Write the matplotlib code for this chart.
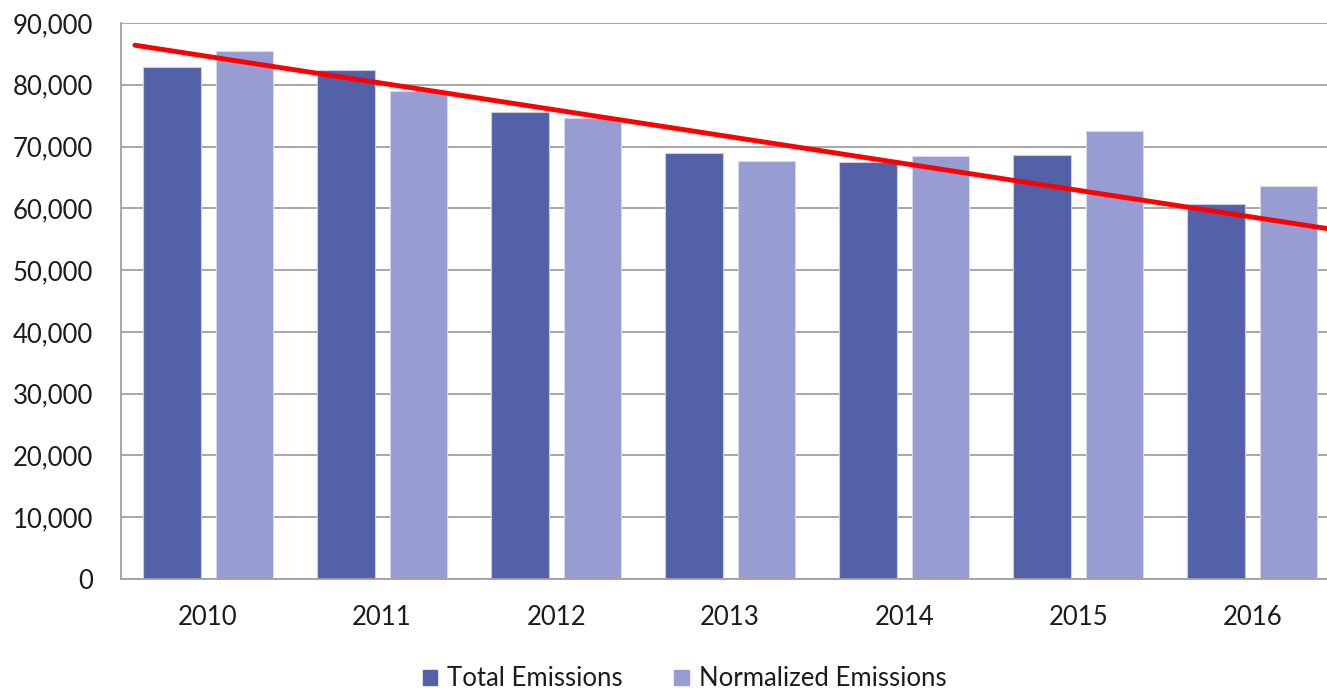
import matplotlib
matplotlib.use("Agg")
import matplotlib.pyplot as plt
import matplotlib.ticker as ticker
from matplotlib.patches import Patch
import numpy as np

# data
years = ["2010", "2011", "2012", "2013", "2014", "2015", "2016"]
total_emissions = [82900, 82400, 75600, 69000, 67500, 68600, 60700]
normalized_emissions = [85500, 79000, 74600, 67700, 68500, 72500, 63600]
# hand-drawn trend arrow (start / end)
trend_x = [-0.42, 6.62]
trend_y = [86400, 55900]

color_total = "#5361A9"
color_norm = "#979CD2"
text_color = "#1c1c1c"

plt.rcParams['font.family'] = ['Lato', 'DejaVu Sans']

fig = plt.figure(figsize=(13.27, 6.92), dpi=100)
ax = fig.add_axes([0.0912, 0.1633, 0.918, 0.8035])

x = np.arange(len(years))
w = 0.33
off = 0.208
ax.bar(x - off, total_emissions, w, color=color_total, edgecolor="#c9cce6", linewidth=0.8, zorder=2)
ax.bar(x + off, normalized_emissions, w, color=color_norm, edgecolor="#d6d8ee", linewidth=0.8, zorder=2)

# trend arrow, head runs off the right edge like in the original
ax.annotate("", xy=(trend_x[1], trend_y[1]), xytext=(trend_x[0], trend_y[0]),
            arrowprops=dict(arrowstyle="->,head_length=0.8,head_width=0.45", color="#ff0000", lw=3.5,
                            shrinkA=0, shrinkB=0), zorder=3, annotation_clip=False)

ax.set_xlim(-0.5, len(years) - 0.5)
ax.set_ylim(0, 90000)
ax.yaxis.set_major_locator(ticker.MultipleLocator(10000))
ax.yaxis.set_major_formatter(ticker.FuncFormatter(lambda v, p: f"{int(v):,}"))
ax.set_xticks(x)
ax.set_xticklabels(years)
ax.grid(axis="y", color="#a0a0a0", lw=1.3, zorder=0)
ax.set_axisbelow(True)
ax.tick_params(axis="both", length=0, labelsize=18.5, labelcolor=text_color)
ax.tick_params(axis="y", pad=20)
ax.tick_params(axis="x", pad=19)
for s in ["top", "right"]:
    ax.spines[s].set_visible(False)
for s in ["left", "bottom"]:
    ax.spines[s].set_color("#a0a0a0")
    ax.spines[s].set_linewidth(1.3)

handles = [Patch(color=color_total, label="Total Emissions"),
           Patch(color=color_norm, label="Normalized Emissions")]
fig.legend(handles=handles, loc="center", bbox_to_anchor=(0.516, 0.019), ncol=2, frameon=False,
           fontsize=18.5, handlelength=0.55, handleheight=0.55, handletextpad=0.4, columnspacing=2.0,
           labelcolor=text_color)

fig.savefig("out.png", dpi=100)
